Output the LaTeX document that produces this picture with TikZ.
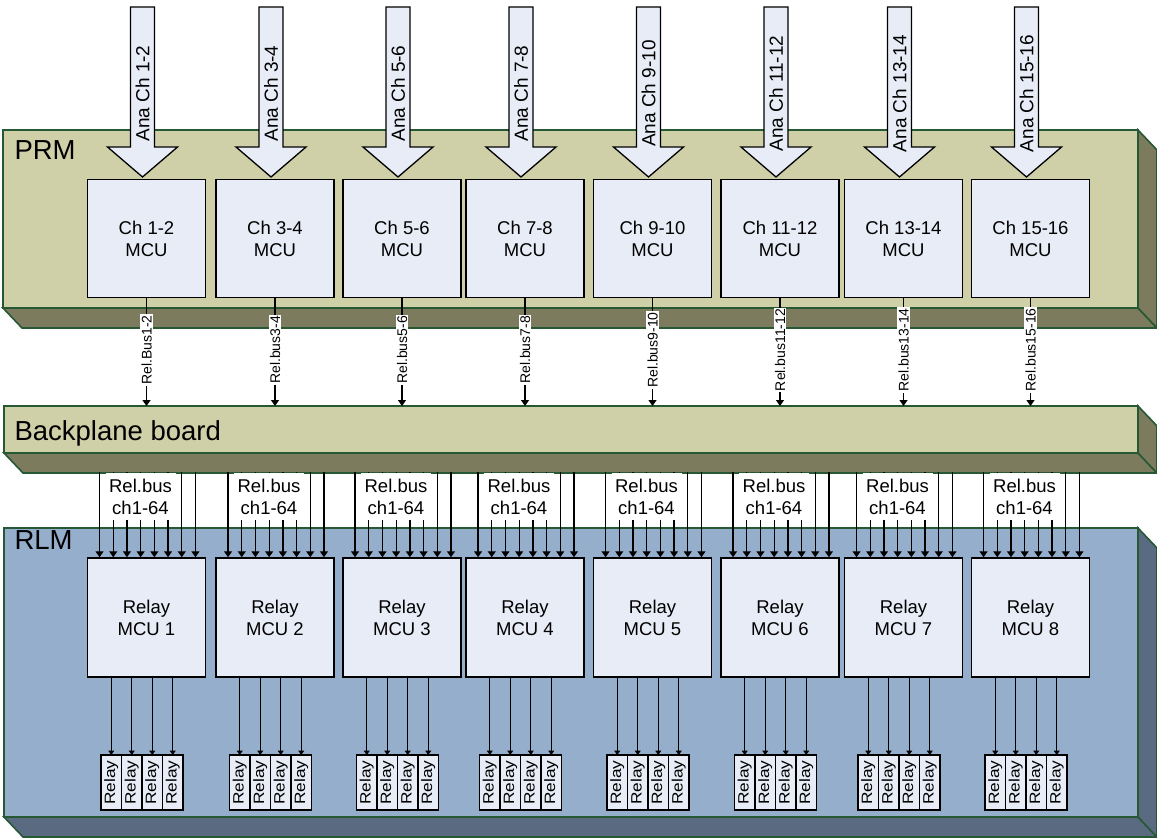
\documentclass[tikz,border=0pt]{standalone}
\usepackage{fontspec}
\setmainfont{Liberation Sans}
\usetikzlibrary{calc,arrows.meta}
\definecolor{prmfill}{RGB}{207,207,168}
\definecolor{prmdark}{RGB}{125,123,94}
\definecolor{rlmfill}{RGB}{149,174,204}
\definecolor{rlmdark}{RGB}{90,106,128}
\definecolor{slabline}{RGB}{38,88,52}
\definecolor{boxfill}{RGB}{232,236,246}
\tikzset{
    txt/.style={font=\fontsize{18.5}{22}\selectfont, align=center},
    slab/.style={font=\fontsize{27.5}{32}\selectfont, anchor=base west},
    face/.style={draw=slabline, line width=1.6pt, outer sep=0pt, inner sep=0pt, anchor=north west},
    depth/.style={draw=slabline, line width=1.6pt, line join=miter},
    mcu/.style={txt, draw, fill=boxfill, line width=1.5pt, minimum width=118pt, minimum height=118pt, inner sep=0pt},
    inarrow/.style={draw, fill=boxfill, line width=1.3pt, line join=miter},
    analab/.style={font=\fontsize{19}{22}\selectfont, rotate=90},
    busline/.style={line width=1.3pt, -{Triangle[length=6pt,width=8pt]}},
    relline/.style={line width=1.3pt, -{Triangle[length=4.5pt,width=6pt]}},
    buslab/.style={font=\fontsize{14}{16}\selectfont, rotate=90, fill=white, inner sep=1pt},
    relay/.style={draw, fill=boxfill, line width=1.3pt, minimum width=20.5pt, minimum height=55pt, inner sep=0pt, outer sep=0pt,
        font=\fontsize{15}{16}\selectfont}
}

\begin{document}
\begin{tikzpicture}[x=1pt,y=-1pt]

    \useasboundingbox (0,0) rectangle (1157,840);

% --- slabs: front face + depth (dx,dy) ---
    \def\dx{19}
    \def\dy{20}

% PRM
    \node[face, fill=prmfill, minimum width=1135pt, minimum height=178pt] (prm) at (3,130) {};
    \filldraw[depth, fill=prmdark] (prm.south west) -- ++(\dx,\dy) -- ($(prm.south east)+(\dx,\dy)$) -- (prm.south east) -- cycle;
    \filldraw[depth, fill=prmdark] (prm.north east) -- ++(\dx,\dy) -- ($(prm.south east)+(\dx,\dy)$) -- (prm.south east) -- cycle;
    \node[slab] at (11,160) {PRM};

% backplane board
    \node[face, fill=prmfill, minimum width=1134pt, minimum height=47pt] (bp) at (4,406) {};
    \filldraw[depth, fill=prmdark] (bp.south west) -- ++(\dx,\dy) -- ($(bp.south east)+(\dx,\dy)$) -- (bp.south east) -- cycle;
    \filldraw[depth, fill=prmdark] (bp.north east) -- ++(\dx,\dy) -- ($(bp.south east)+(\dx,\dy)$) -- (bp.south east) -- cycle;
    \node[slab] at (11,440) {Backplane board};

% RLM
    \node[face, fill=rlmfill, minimum width=1134pt, minimum height=289pt] (rlm) at (4,528) {};
    \filldraw[depth, fill=rlmdark] (rlm.south west) -- ++(\dx,\dy) -- ($(rlm.south east)+(\dx,\dy)$) -- (rlm.south east) -- cycle;
    \filldraw[depth, fill=rlmdark] (rlm.north east) -- ++(\dx,\dy) -- ($(rlm.south east)+(\dx,\dy)$) -- (rlm.south east) -- cycle;
    \node[slab] at (11,549) {RLM};

% --- one column per channel pair ---
    \foreach \cx/\ch/\bus [count=\i] in {146.5/1-2/Bus1-2, 275/3-4/bus3-4, 402/5-6/bus5-6, 525/7-8/bus7-8,
        652.5/9-10/bus9-10, 780/11-12/bus11-12, 903.5/13-14/bus13-14, 1030.5/15-16/bus15-16} {

    % channel MCU
        \node[mcu] (mcu\i) at (\cx,238.5) {Ch \ch\\MCU};

    % analog input arrow
        \draw[inarrow] (\cx-16,7) -- (\cx+8,7) -- (\cx+8,147) -- (\cx+31,147) -- (\cx-4,177)
            -- (\cx-39,147) -- (\cx-16,147) -- cycle;
        \node[analab] (ana\i) at (\cx-4,93.5) {Ana Ch \ch};

    % relay bus to backplane
        \draw[busline] (mcu\i.south) -- (mcu\i.south |- bp.north) node[buslab, pos=0.48] {Rel.\bus};

    % relay MCU
        \node[mcu, minimum height=119pt] (rmcu\i) at (\cx,617.5) {Relay\\MCU \i};

    % bus lines from backplane
        \foreach \k in {1,...,8}
            \draw[busline] ($(rmcu\i.north)+({1+(\k-4.5)*13.7},-85)$) -- ($(rmcu\i.north)+({1+(\k-4.5)*13.7},0)$);
        \node[txt, fill=white, minimum width=70pt, minimum height=47pt, inner sep=0pt] (rb\i) at (\cx-6,496.5) {Rel.bus\\ch1-64};

    % relays
        \foreach \k in {1,...,4} {
            \node[relay] (rly\i-\k) at ({\cx-4.5+(\k-2.5)*20.5},782.5) {\rotatebox{90}{\scalebox{1.15}[1]{Relay}}};
            \draw[relline] (rly\i-\k.north |- rmcu\i.south) -- (rly\i-\k.north);
        }
    }

\end{tikzpicture}
\end{document}
